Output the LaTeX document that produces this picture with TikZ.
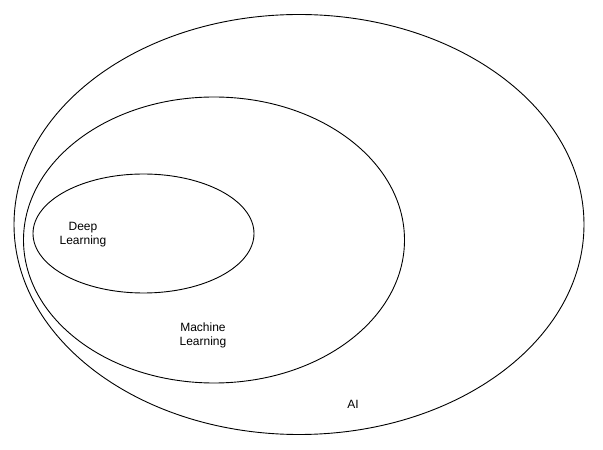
\documentclass[tikz,border=0pt]{standalone}
\usepackage{fontspec}
\setmainfont{Liberation Sans}
\begin{document}
\begin{tikzpicture}[x=1pt, y=1pt, line width=0.9pt, font=\fontsize{12}{14}\selectfont]
    \useasboundingbox (0, 0) rectangle (603, 450);
    \draw[] (299, 225.5) ellipse [x radius=285, y radius=210];
    \node[align=center] (ai) at (353, 46) {AI};

    \draw[] (214, 210) ellipse [x radius=190.5, y radius=143];
    \node[align=center] (ml) at (203, 115) {Machine\\Learning};

    \draw[] (143.5, 216.5) ellipse [x radius=110.5, y radius=59.5];
    \node[align=center] (dl) at (83, 215) {Deep\\Learning};
  \end{tikzpicture}
\end{document}
